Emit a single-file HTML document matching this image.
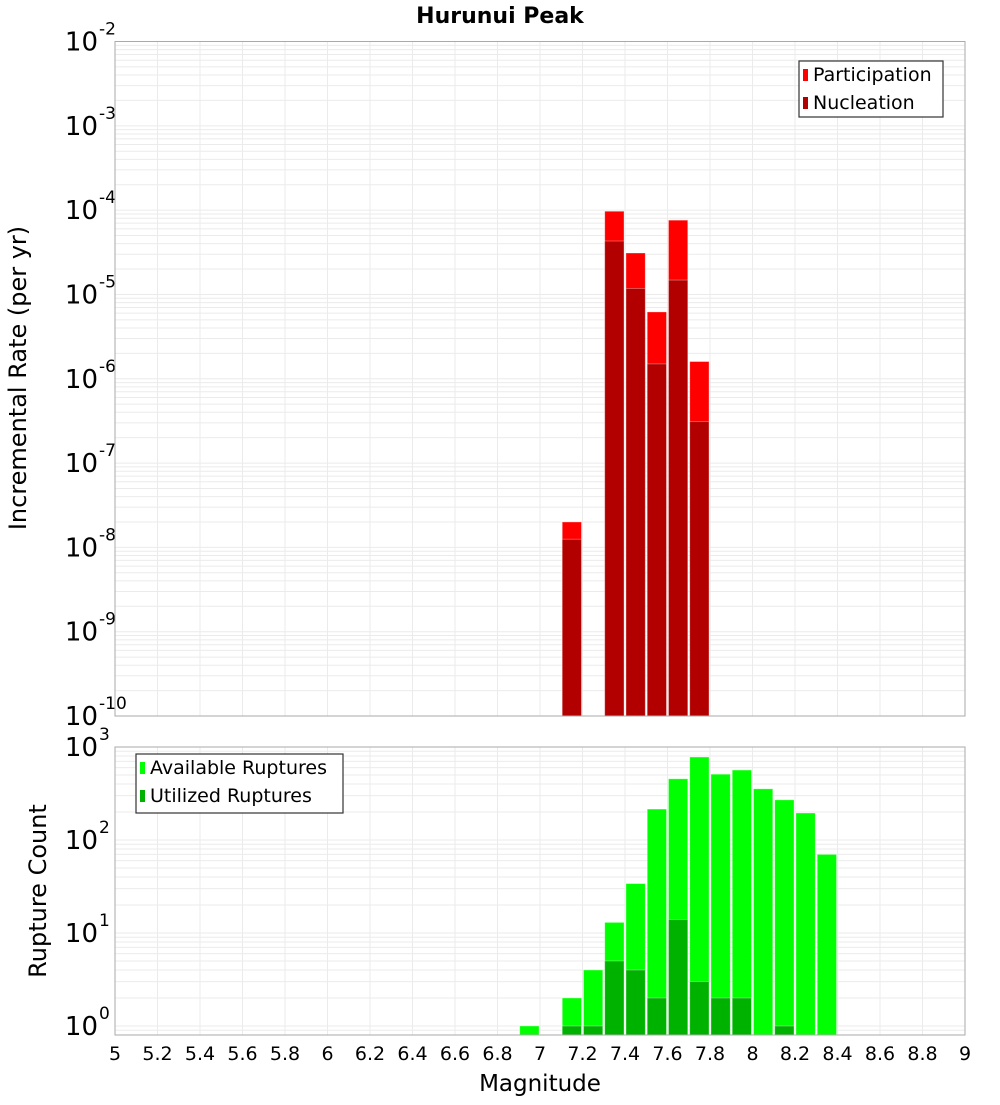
<!DOCTYPE html>
<html><head><meta charset="utf-8"><style>
body{margin:0;background:#fff;width:1000px;height:1100px;overflow:hidden}
svg{font-family:"DejaVu Sans","Liberation Sans",sans-serif}
</style></head><body>
<svg id="c" width="1000" height="1100"></svg>
<script>
const magBins=[6.9,7.1,7.2,7.3,7.4,7.5,7.6,7.7,7.8,7.9,8.0,8.1,8.2,8.3];
const availCounts=[1,2,4,13,34,215,455,780,510,565,355,270,195,70];
const usedCounts=[0,1,1,5,4,2,14,3,2,2,0,1,0,0];
const rateBins=[7.1,7.3,7.4,7.5,7.6,7.7];
const partRates=[2e-8,9.7e-5,3.1e-5,6.2e-6,7.6e-5,1.6e-6];
const nuclRates=[1.25e-8,4.3e-5,1.18e-5,1.5e-6,1.48e-5,3.1e-7];
const xTicks=[5,5.2,5.4,5.6,5.8,6,6.2,6.4,6.6,6.8,7,7.2,7.4,7.6,7.8,8,8.2,8.4,8.6,8.8,9];
const topDecades=[-2,-3,-4,-5,-6,-7,-8,-9,-10];
const botDecades=[3,2,1,0];

const svg=document.getElementById('c');const NS='http://www.w3.org/2000/svg';
function el(t,a,p){const e=document.createElementNS(NS,t);for(const k in a)e.setAttribute(k,a[k]);(p||svg).appendChild(e);return e;}
const X0=115,X1=965;
const x=m=>X0+(m-5)/4*(X1-X0);
const T={y0:41.5,y1:716,lo:-10,hi:-2};
const B={y0:747,y1:1035,lo:-0.0968,hi:3};
const yl=(P,v)=>P.y1-(Math.log10(v)-P.lo)/(P.hi-P.lo)*(P.y1-P.y0);

function panel(P,name,decades){
  const g=el('g',{});
  
  for(let d=Math.floor(P.lo);d<P.hi;d++)for(let k=1;k<10;k++){const v=Math.log10(k)+d;if(v<P.lo||v>P.hi)continue;const yy=P.y1-(v-P.lo)/(P.hi-P.lo)*(P.y1-P.y0);
    el('line',{x1:X0,x2:X1,y1:yy,y2:yy,stroke:'#ebebeb','stroke-width':1},g);}
  xTicks.forEach(t=>el('line',{x1:x(t),x2:x(t),y1:P.y0,y2:P.y1,stroke:'#ebebeb','stroke-width':1},g));
  decades.forEach(d=>{const yy=P.y1-(d-P.lo)/(P.hi-P.lo)*(P.y1-P.y0);
    const t=el('text',{x:98,y:yy+9,'text-anchor':'end','font-size':26,fill:'#000'});
    
    t.textContent='10';
    const s=el('text',{x:99,y:yy-7,'font-size':17,fill:'#000'});s.textContent=String(d);
    
  });
  return g;
}
function frame(P){el('rect',{x:X0,y:P.y0,width:X1-X0,height:P.y1-P.y0,fill:'none',stroke:'#aaa','stroke-width':1});}
function bar(P,m,v,col,name){if(v<=0)return;const y=yl(P,v);const r=el('rect',{x:x(m)+1,y:y,width:x(m+0.1)-x(m)-2,height:P.y1-y,fill:col,stroke:'#fff','stroke-opacity':0.4,'stroke-width':0.8});
  }

panel(T,'rate',topDecades);
rateBins.forEach((m,i)=>bar(T,m,partRates[i],'#ff0000','participation-bar'));
rateBins.forEach((m,i)=>bar(T,m,nuclRates[i],'#b20000','nucleation-bar'));
frame(T);
panel(B,'count',botDecades);
magBins.forEach((m,i)=>bar(B,m,availCounts[i],'#00ff00','available-bar'));
magBins.forEach((m,i)=>bar(B,m,usedCounts[i],'#00b200','utilized-bar'));
frame(B);

xTicks.forEach(t=>{const tx=el('text',{x:x(t),y:1060,'text-anchor':'middle','font-size':19,fill:'#000'});tx.textContent=String(t);
  });

function txt(s,a,name){const t=el('text',a);t.textContent=s;return t;}
txt('Hurunui Peak',{x:500,y:23,'text-anchor':'middle','font-size':22,'font-weight':'bold'},'chart-title');
txt('Magnitude',{x:540,y:1091,'text-anchor':'middle','font-size':23},'x-axis-title');
txt('Incremental Rate (per yr)',{x:26,y:378,'text-anchor':'middle','font-size':24,transform:'rotate(-90 26 378)'},'y-axis-title-top');
txt('Rupture Count',{x:46,y:891,'text-anchor':'middle','font-size':24,transform:'rotate(-90 46 891)'},'y-axis-title-bottom');

function legend(bx,by,w,h,items,name){const g=el('g',{});
  el('rect',{x:bx,y:by,width:w,height:h,fill:'#fff',stroke:'#333','stroke-width':1.2},g);
  items.forEach((it,i)=>{el('rect',{x:bx+4,y:by+8+i*28,width:5,height:12,fill:it[1]},g);
    const t=el('text',{x:bx+14,y:by+20+i*28,'font-size':19},g);t.textContent=it[0];
    });}
legend(799,61,144,56,[['Participation','#ff0000'],['Nucleation','#b20000']],'legend-top');
legend(136,754,207,59,[['Available Ruptures','#00ff00'],['Utilized Ruptures','#00b200']],'legend-bottom');
</script>
</body></html>
